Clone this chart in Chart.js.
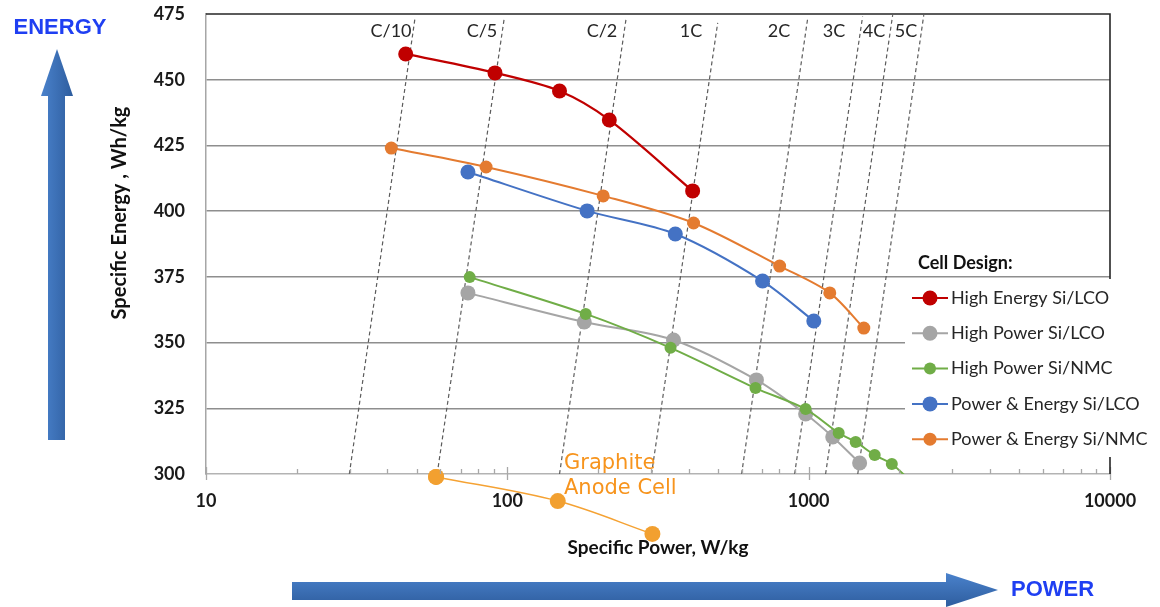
<!DOCTYPE html>
<html>
<head>
<meta charset="utf-8">
<title>Specific energy vs specific power by cell design</title>
<script src="https://cdn.jsdelivr.net/npm/chart.js@4"></script>
<style>
  html, body { margin: 0; padding: 0; background: #fff; }
  #wrap { width: 1160px; height: 607px; }
</style>
</head>
<body>
<div id="wrap"><canvas id="chart" width="1160" height="607"></canvas></div>
<script>
// values (x = specific power W/kg, y = specific energy Wh/kg)
const heLcoPower = [46, 91, 149, 218, 412];
const heLcoEnergy = [459.8, 452.6, 445.7, 434.7, 407.7];

const hpLcoPower = [74, 180, 356, 671, 977, 1202, 1476];
const hpLcoEnergy = [368.9, 357.8, 351.0, 335.8, 322.8, 314.1, 304.2];

const hpNmcPower = [75, 182, 348, 666, 977, 1258, 1432, 1656, 1888, 2180];
const hpNmcEnergy = [374.9, 360.9, 348.0, 332.7, 324.7, 315.6, 312.2, 307.2, 303.8, 297.3];

const peLcoPower = [74, 184, 361, 703, 1040];
const peLcoEnergy = [414.9, 400.1, 391.3, 373.4, 358.2];

const peNmcPower = [41.2, 85, 208, 415, 801, 1175, 1524];
const peNmcEnergy = [424.0, 416.8, 405.8, 395.5, 379.1, 368.9, 355.5];

const graphitePower = [58, 147, 303];
const graphiteEnergy = [298.9, 289.7, 277.2];

// C-rate guide lines: power at the bottom (300 Wh/kg) and at the top end
const cRateNames = ['C/10', 'C/5', 'C/2', '1C', '2C', '3C', '4C', '5C'];
const cRateBottomPower = [29.9, 58.5, 149, 301, 599, 898, 1138, 1455];
const cRateTopPower = [49.4, 97.7, 248, 499, 993, 1510, 1900, 2410];
const cRateTopEnergy = [473.5, 473.5, 473.5, 471.6, 473.5, 474, 474.6, 474.6];

const energyTicks = [300, 325, 350, 375, 400, 425, 450, 475];
const decades = [10, 100, 1000, 10000];

// label placement for the C-rate names (pixels, top strip of the plot)
const cRateLabelX = [391, 482, 602, 691, 779, 834, 874, 906];

const pts = (xs, ys) => xs.map((v, i) => ({ x: v, y: ys[i] }));

const series = [
  { label: 'High Energy Si/LCO', p: heLcoPower, e: heLcoEnergy, color: '#C00000', r: 7.5, w: 2.3, order: 1 },
  { label: 'High Power Si/LCO', p: hpLcoPower, e: hpLcoEnergy, color: '#A5A5A5', r: 7.5, w: 2, order: 4 },
  { label: 'High Power Si/NMC', p: hpNmcPower, e: hpNmcEnergy, color: '#70AD47', r: 6, w: 2, order: 3 },
  { label: 'Power & Energy Si/LCO', p: peLcoPower, e: peLcoEnergy, color: '#4472C4', r: 7.5, w: 2, order: 5 },
  { label: 'Power & Energy Si/NMC', p: peNmcPower, e: peNmcEnergy, color: '#E47B30', r: 6.5, w: 2, order: 2 }
];

const datasets = series.map(s => ({
  label: s.label,
  data: pts(s.p, s.e),
  borderColor: s.color,
  backgroundColor: s.color,
  pointBackgroundColor: s.color,
  pointBorderColor: s.color,
  pointBorderWidth: 0,
  pointRadius: s.r,
  borderWidth: s.w,
  tension: 0.3,
  order: s.order,
  inLegend: true
}));

// graphite cell sits below the 300 Wh/kg floor, so it is drawn unclipped
datasets.push({
  label: 'Graphite Anode Cell',
  data: pts(graphitePower, graphiteEnergy),
  borderColor: '#F5A233',
  backgroundColor: '#F2A030',
  pointBackgroundColor: '#F2A030',
  pointBorderWidth: 0,
  pointRadius: 8,
  borderWidth: 1.5,
  tension: 0.35,
  clip: false,
  unclipped: true,
  order: 6
});

cRateNames.forEach((name, i) => {
  datasets.push({
    label: name,
    data: [{ x: cRateBottomPower[i], y: 300 }, { x: cRateTopPower[i], y: cRateTopEnergy[i] }],
    borderColor: '#5c5c5c',
    borderWidth: 1.2,
    borderDash: [4, 3],
    pointRadius: 0,
    tension: 0,
    order: 20
  });
});

const powerTicks = [];
[10, 100, 1000].forEach(d => { for (let k = 1; k < 10; k++) powerTicks.push(d * k); });
powerTicks.push(10000);

function arrowUp(ctx) {
  const g = ctx.createLinearGradient(41, 0, 73, 0);
  g.addColorStop(0, '#4A82CC');
  g.addColorStop(1, '#2E5D9E');
  ctx.fillStyle = g;
  ctx.fillRect(48, 93, 17, 347);
  ctx.beginPath();
  ctx.moveTo(41, 96); ctx.lineTo(73, 96); ctx.lineTo(57, 49);
  ctx.closePath();
  ctx.fill();
}

function arrowRight(ctx) {
  const g = ctx.createLinearGradient(0, 573, 0, 607);
  g.addColorStop(0, '#4A82CC');
  g.addColorStop(1, '#2E5D9E');
  ctx.fillStyle = g;
  ctx.fillRect(292, 582, 657, 18);
  ctx.beginPath();
  ctx.moveTo(946, 573); ctx.lineTo(946, 607); ctx.lineTo(998, 590);
  ctx.closePath();
  ctx.fill();
}

const decor = {
  id: 'decor',
  afterDatasetsDraw(chart) {
    // points of unclipped datasets: let the library's own point elements draw outside the area
    const whole = { left: 0, top: 0, right: chart.width, bottom: chart.height };
    chart.data.datasets.forEach((d, i) => {
      if (!d.unclipped) return;
      chart.getDatasetMeta(i).data.forEach(pt => pt.draw(chart.ctx, whole));
    });
  },
  afterDraw(chart) {
    const { ctx, chartArea: a, scales: { x } } = chart;
    ctx.save();

    // inward tick marks on the power axis
    ctx.strokeStyle = '#a8a8a8';
    ctx.lineWidth = 1.3;
    powerTicks.forEach(v => {
      const px = Math.round(x.getPixelForValue(v)) + 0.5;
      const major = decades.includes(v);
      ctx.beginPath();
      ctx.moveTo(px, a.bottom - (major ? 7 : 5));
      ctx.lineTo(px, a.bottom + (major ? 6 : 0));
      ctx.stroke();
    });

    // dark frame on top and right
    ctx.strokeStyle = '#262626';
    ctx.lineWidth = 1.6;
    ctx.beginPath();
    ctx.moveTo(a.left, a.top);
    ctx.lineTo(a.right, a.top);
    ctx.lineTo(a.right, a.bottom);
    ctx.stroke();

    // C-rate names
    ctx.fillStyle = '#262626';
    ctx.font = '18px Lato';
    ctx.textAlign = 'center';
    ctx.textBaseline = 'middle';
    cRateNames.forEach((n, i) => ctx.fillText(n, cRateLabelX[i], 31));

    // graphite note
    ctx.fillStyle = '#F7941D';
    ctx.font = '21px "DejaVu Sans"';
    ctx.textAlign = 'left';
    ctx.fillText('Graphite', 564, 464);
    ctx.fillText('Anode Cell', 564, 489);

    // legend
    ctx.fillStyle = '#ffffff';
    ctx.fillRect(905, 279, 255, 178);
    ctx.fillStyle = '#111';
    ctx.font = 'bold 18px Lato';
    ctx.fillText('Cell Design:', 918, 263);
    chart.data.datasets.filter(d => d.inLegend).forEach((d, i) => {
      const y = 298 + i * 35.3;
      ctx.strokeStyle = d.borderColor;
      ctx.lineWidth = 2;
      ctx.beginPath();
      ctx.moveTo(912, y); ctx.lineTo(948, y);
      ctx.stroke();
      ctx.fillStyle = d.borderColor;
      ctx.beginPath();
      ctx.arc(930, y, d.pointRadius, 0, Math.PI * 2);
      ctx.fill();
      ctx.fillStyle = '#262626';
      ctx.font = '18px Lato';
      ctx.fillText(d.label, 951, y);
    });

    // axis titles
    ctx.fillStyle = '#111';
    ctx.font = 'bold 19px Lato';
    ctx.textAlign = 'center';
    ctx.fillText('Specific Power, W/kg', 658, 548);
    ctx.save();
    ctx.translate(120, 213);
    ctx.rotate(-Math.PI / 2);
    ctx.font = 'bold 20px Lato';
    ctx.fillText('Specific Energy , Wh/kg', 0, 0);
    ctx.restore();

    // direction arrows
    arrowUp(ctx);
    arrowRight(ctx);
    ctx.fillStyle = '#1F3FF2';
    ctx.font = 'bold 22px "Liberation Sans"';
    ctx.textAlign = 'center';
    ctx.fillText('ENERGY', 60, 28);
    ctx.textAlign = 'left';
    ctx.fillText('POWER', 1011, 590);

    ctx.restore();
  }
};

Chart.defaults.font.family = 'Lato';

const noPad = s => { s.paddingTop = 0; s.paddingBottom = 0; s.paddingLeft = 0; s.paddingRight = 0; };

new Chart(document.getElementById('chart'), {
  type: 'line',
  data: { datasets },
  options: {
    responsive: false,
    animation: false,
    devicePixelRatio: 1,
    layout: { padding: { top: 14, right: 50, left: 0, bottom: 0 } },
    plugins: { legend: { display: false }, tooltip: { enabled: false }, title: { display: false } },
    scales: {
      x: {
        type: 'logarithmic',
        min: 10,
        max: 10000,
        afterFit: s => { s.height = 133; noPad(s); },
        afterBuildTicks: s => { s.ticks = powerTicks.map(v => ({ value: v, major: decades.includes(v) })); },
        grid: { display: false, drawTicks: false },
        border: { display: true, color: '#b3b3b3', width: 1.5 },
        ticks: {
          autoSkip: false,
          maxRotation: 0,
          padding: 16,
          color: '#1a1a1a',
          font: { size: 18, weight: 'bold' },
          callback: v => decades.includes(v) ? String(v) : ''
        }
      },
      y: {
        min: 300,
        max: 475,
        afterFit: s => { s.width = 206; noPad(s); },
        afterBuildTicks: s => { s.ticks = energyTicks.map(v => ({ value: v })); },
        grid: {
          drawTicks: false,
          lineWidth: 1.5,
          color: c => (c.tick && (c.tick.value === 300 || c.tick.value === 475)) ? 'rgba(0,0,0,0)' : '#8e8e8e'
        },
        border: { display: true, color: '#a6a6a6', width: 1.5 },
        ticks: { padding: 21, color: '#1a1a1a', font: { size: 18, weight: 'bold' } }
      }
    }
  },
  plugins: [decor]
});
</script>
</body>
</html>
